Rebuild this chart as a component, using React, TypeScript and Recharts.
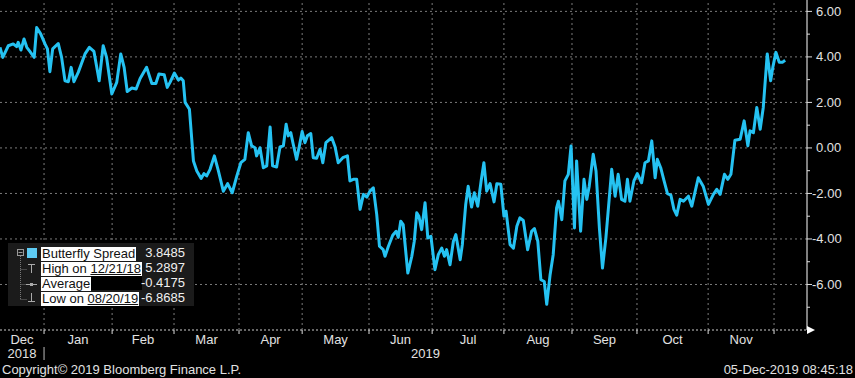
import React from 'react'
import { LineChart, Line, XAxis, YAxis, ReferenceLine } from 'recharts'

// trading-day index since the start of the window (early Dec 2018)
const days = [
  0, 0.9, 2.7, 4.3, 5.4, 5.9, 6.8, 7.8, 8.7, 9.7, 11.1, 11.9, 13.2, 14.6, 15.4, 16.2, 17.1, 18.9, 20.0, 21.1,
  22.2, 23.1, 24.0, 25.4, 27.6, 29.0, 30.5, 32.2, 33.5, 34.6, 36.3, 37.9, 39.2, 40.3, 41.3, 42.8, 44.2, 45.5, 47.6, 49.3,
  50.6, 51.6, 53.3, 54.3, 55.2, 56.6, 57.9, 58.7, 59.5, 60.1, 61.5, 62.8, 63.9, 65.3, 66.2, 67.1, 68.2, 69.6, 70.9, 72.5,
  73.9, 75.4, 76.9, 78.2, 79.5, 80.6, 81.7, 82.8, 83.3, 84.4, 85.5, 86.6, 87.7, 88.5, 89.8, 90.9, 92.0, 92.9, 93.6, 94.4,
  95.2, 96.3, 97.2, 98.1, 99.0, 99.8, 100.9, 101.7, 102.8, 103.9, 104.8, 105.8, 107.7, 108.8, 109.8, 111.3, 112.8, 113.6, 114.7, 115.8,
  116.9, 118.0, 119.1, 120.1, 121.2, 122.3, 123.2, 124.4, 125.0, 126.1, 127.5, 128.6, 129.3, 130.1, 130.9, 132.4, 133.7, 134.5, 135.3, 136.0,
  136.9, 138.0, 138.9, 139.9, 141.2, 142.3, 143.4, 144.3, 145.0, 146.1, 147.2, 148.0, 149.4, 150.1, 151.2, 152.0, 153.1, 154.0, 155.1, 156.2,
  157.1, 158.0, 159.1, 160.4, 161.3, 162.6, 163.6, 164.3, 165.6, 166.7, 167.8, 168.8, 169.9, 171.3, 172.6, 173.5, 174.6, 175.6, 176.7, 177.5,
  178.6, 179.6, 180.7, 181.3, 182.4, 183.4, 184.5, 185.4, 186.5, 187.2, 188.5, 189.6, 190.5, 191.3, 192.6, 193.5, 194.6, 195.6, 196.7, 198.6,
  199.7, 200.7, 201.8, 202.9, 203.7, 204.5, 205.8, 206.9, 208.3, 209.4, 210.5, 211.6, 212.7, 213.4, 214.5, 215.6, 216.7, 217.8, 218.8, 219.7,
  220.8, 221.9, 223.5, 224.6, 226.7, 228.3, 230.0, 231.6, 232.7, 233.8, 235.2, 236.3, 237.3, 238.6, 240.3, 241.6, 242.8, 243.5, 244.6, 245.7,
  246.8, 247.8, 249.1, 250.2, 250.9, 251.9, 253.0, 254.0, 254.9,
]

const spread = [
  4.42, 3.98, 4.49, 4.57, 4.45, 4.64, 4.30, 4.79, 4.42, 4.24, 3.98, 5.29, 5.01, 4.57, 4.35, 3.35, 4.35, 4.59, 3.98, 2.95,
  2.91, 3.54, 2.91, 3.32, 4.13, 4.42, 4.24, 2.95, 4.49, 3.98, 2.37, 2.88, 4.13, 3.54, 2.48, 2.63, 2.59, 3.05, 3.54, 2.83,
  2.83, 3.25, 3.22, 2.66, 2.88, 3.29, 2.98, 3.07, 2.95, 2.00, 1.70, -0.57, -1.01, -1.34, -1.13, -1.23, -0.94, -0.35, -1.01, -1.90,
  -1.57, -1.97, -1.23, -0.65, -0.50, 0.67, 0.09, 0.01, -0.35, 0.01, -0.87, -0.79, 0.92, -0.79, -0.84, 0.04, 0.09, 1.04, 0.53, 0.67,
  0.16, -0.50, 0.09, 0.72, 0.23, 0.53, 0.63, -0.43, -0.45, -0.06, -0.65, 0.23, 0.45, 0.04, -0.65, -0.43, -0.35, -1.45, -1.38, -1.38,
  -2.70, -2.04, -2.16, -1.90, -1.75, -2.92, -4.32, -4.47, -4.76, -4.32, -3.84, -3.66, -3.93, -3.22, -3.37, -5.50, -4.76, -4.10, -2.85, -3.00,
  -3.59, -2.41, -3.96, -3.88, -5.35, -4.69, -4.40, -4.76, -4.47, -5.13, -4.10, -3.81, -4.91, -4.25, -2.48, -1.68, -2.60, -1.97, -2.56, -1.45,
  -0.65, -1.90, -1.57, -2.37, -1.57, -1.60, -3.00, -2.78, -4.25, -4.40, -3.44, -3.07, -3.19, -4.47, -3.66, -3.54, -4.10, -5.79, -5.87, -6.87,
  -5.57, -4.69, -2.63, -2.34, -3.15, -1.45, -1.16, 0.09, -3.52, -0.57, -3.66, -1.38, -2.26, -1.68, -0.28, -1.01, -3.52, -5.28, -3.96, -0.94,
  -2.12, -1.16, -2.26, -2.34, -1.38, -2.34, -1.45, -1.13, -1.53, -0.65, -0.57, 0.31, -1.31, -0.50, -0.87, -1.45, -2.01, -2.07, -2.70, -2.95,
  -2.26, -2.34, -2.12, -2.56, -1.31, -1.68, -2.48, -2.04, -1.82, -2.04, -1.16, -1.38, -1.16, 0.34, 0.38, 1.19, 0.09, 0.75, 0.67, 1.78,
  0.82, 1.78, 4.13, 2.95, 3.54, 4.20, 3.76, 3.76, 3.85,
]

// month boundaries in trading days: Jan 2019 .. Dec 2019
const monthStarts = [14.3, 36.4, 56.5, 77.6, 98.1, 119.8, 140.3, 163.6, 185.7, 206.8, 229.9, 251.3]
const monthNames = ['Dec', 'Jan', 'Feb', 'Mar', 'Apr', 'May', 'Jun', 'Jul', 'Aug', 'Sep', 'Oct', 'Nov']
const xEnd = 262
const years = [
  { label: '2018', from: 0, to: 14.3 },
  { label: '2019', from: 14.3, to: xEnd },
]

const yTicks = [-7, -6, -5, -4, -3, -2, -1, 0, 1, 2, 3, 4, 5, 6]
const yGrid = [-6, -4, -2, 0, 2, 4, 6]

const legendRows = [
  { label: 'Butterfly Spread', date: '', value: '3.8485' },
  { label: 'High on ', date: '12/21/18', value: '5.2897' },
  { label: 'Average', date: '', value: '-0.4175' },
  { label: 'Low on ', date: '08/20/19', value: '-6.8685' },
]

const data = days.map((d, i) => ({ day: d, v: spread[i] }))

const LINE = '#25c2f2'
const GRID = '#7c7c7c'
const TXT = '#e2e2e2'
const FONT = "'Liberation Sans', Arial, sans-serif"

type TickInfo = { start?: boolean; sep?: boolean; month?: string; year?: string; arrow?: boolean }
const tickInfo = new Map<number, TickInfo>()
const addTick = (v: number, info: TickInfo) => {
  const key = Math.round(v * 100) / 100
  tickInfo.set(key, { ...(tickInfo.get(key) || {}), ...info })
}
monthStarts.forEach((m, i) => addTick(m, { start: true, sep: i === 0 }))
monthNames.forEach((name, i) => {
  const a = i === 0 ? 0 : monthStarts[i - 1]
  addTick((a + monthStarts[i]) / 2, { month: name })
})
years.forEach((y) => addTick((y.from + y.to) / 2, { year: y.label }))
addTick(xEnd, { arrow: true })
const xTicks = Array.from(tickInfo.keys()).sort((a, b) => a - b)

function XTick(props: any) {
  const { x, y, payload } = props
  const info = tickInfo.get(Math.round(payload.value * 100) / 100) || {}
  return (
    <g>
      {info.start && <line x1={x} x2={x} y1={y} y2={y + 4} stroke="#dddddd" />}
      {info.sep && <line x1={x} x2={x} y1={y + 17} y2={y + 30} stroke="#bbbbbb" />}
      {info.arrow && <polygon points={`${x},${y - 4} ${x + 8},${y} ${x},${y + 4}`} fill="#ffffff" />}
      {info.month && (
        <text x={x} y={y + 14} textAnchor="middle" fill={TXT} fontSize={13} fontFamily={FONT}>
          {info.month}
        </text>
      )}
      {info.year && (
        <text x={x} y={y + 28} textAnchor="middle" fill={TXT} fontSize={13} fontFamily={FONT}>
          {info.year}
        </text>
      )}
    </g>
  )
}

function YTick(props: any) {
  const { x, y, payload } = props
  const v = payload.value as number
  const major = v % 2 === 0
  return (
    <g>
      <line x1={x} x2={x + (major ? 5 : 3)} y1={y} y2={y} stroke="#dddddd" />
      {major && (
        <text x={x + (v < 0 ? 5 : 9)} y={y + 4.5} fill={TXT} fontSize={13} fontFamily={FONT}>
          {v.toFixed(2)}
        </text>
      )}
    </g>
  )
}

function Legend() {
  return (
    <div
      style={{
        position: 'absolute', left: 8, top: 243, width: 186, height: 63,
        background: '#1b1b1b', fontFamily: FONT, fontSize: 13,
      }}
    >
      <svg width={40} height={63} style={{ position: 'absolute', left: 0, top: 0 }}>
        <rect x={9.5} y={6.5} width={6} height={6} fill="none" stroke="#999" />
        <line x1={10.5} x2={14.5} y1={9.5} y2={9.5} stroke="#999" />
        <line x1={12.5} x2={12.5} y1={13} y2={57} stroke="#777" strokeDasharray="1 1" />
        {[26, 41, 56].map((cy) => (
          <line key={cy} x1={12.5} x2={19} y1={cy + 0.5} y2={cy + 0.5} stroke="#777" strokeDasharray="1 1" />
        ))}
        <line x1={20} x2={27} y1={21.5} y2={21.5} stroke="#aaa" />
        <line x1={23.5} x2={23.5} y1={21} y2={30} stroke="#aaa" />
        <line x1={18} x2={29} y1={41.5} y2={41.5} stroke="#aaa" />
        <rect x={22} y={40} width={3} height={3} fill="#aaa" />
        <line x1={23.5} x2={23.5} y1={50} y2={58} stroke="#aaa" />
        <line x1={20} x2={27} y1={58.5} y2={58.5} stroke="#aaa" />
        <rect x={19} y={5} width={10} height={10} fill="#5ecbf3" />
      </svg>
      {legendRows.map((r, i) => (
        <div key={i} style={{ position: 'absolute', left: 33, top: 3 + i * 15, height: 14, width: 144 }}>
          <span style={{ background: '#ffffff', color: '#111', padding: '0 1px', lineHeight: '14px', display: 'inline-block' }}>
            {r.label}
            {r.date && <span style={{ textDecoration: 'underline' }}>{r.date}</span>}
          </span>
          {i === 2 && <span style={{ display: 'inline-block', background: '#000', width: 51, height: 14, verticalAlign: 'top' }} />}
          <span style={{ position: 'absolute', right: 0, top: 0, color: '#f0f0f0', lineHeight: '14px' }}>{r.value}</span>
        </div>
      ))}
    </div>
  )
}

export default function App() {
  return (
    <div style={{ position: 'absolute', left: 0, top: 0, width: 855, height: 378, background: '#000', overflow: 'hidden' }}>
      <LineChart width={855} height={378} data={data} margin={{ top: 0, right: 0, bottom: 0, left: 0 }}>
        {yGrid.map((g) => (
          <ReferenceLine key={'h' + g} y={g} stroke={GRID} strokeDasharray="2 3" />
        ))}
        {monthStarts.map((m) => (
          <ReferenceLine key={'v' + m} x={m} stroke={GRID} strokeDasharray="2 3" />
        ))}
        <XAxis
          dataKey="day"
          type="number"
          domain={[0, xEnd]}
          ticks={xTicks}
          interval={0}
          height={48}
          tickSize={0}
          tickMargin={0}
          tickLine={false}
          axisLine={{ stroke: '#cccccc', strokeDasharray: '2 2' }}
          tick={<XTick />}
        />
        <YAxis
          orientation="right"
          type="number"
          domain={[-8, 6.5]}
          allowDataOverflow
          ticks={yTicks}
          interval={0}
          width={48}
          tickSize={0}
          tickMargin={0}
          tickLine={false}
          axisLine={{ stroke: '#ffffff' }}
          tick={<YTick />}
        />
        <Line
          type="linear"
          dataKey="v"
          stroke={LINE}
          strokeWidth={3}
          strokeLinejoin="round"
          dot={false}
          activeDot={false}
          isAnimationActive={false}
        />
      </LineChart>
      <Legend />
      <div style={{ position: 'absolute', left: 2, top: 362, color: TXT, fontFamily: FONT, fontSize: 13 }}>
        Copyright© 2019 Bloomberg Finance L.P.
      </div>
      <div style={{ position: 'absolute', right: 2, top: 362, color: TXT, fontFamily: FONT, fontSize: 13 }}>
        05-Dec-2019 08:45:18
      </div>
    </div>
  )
}
